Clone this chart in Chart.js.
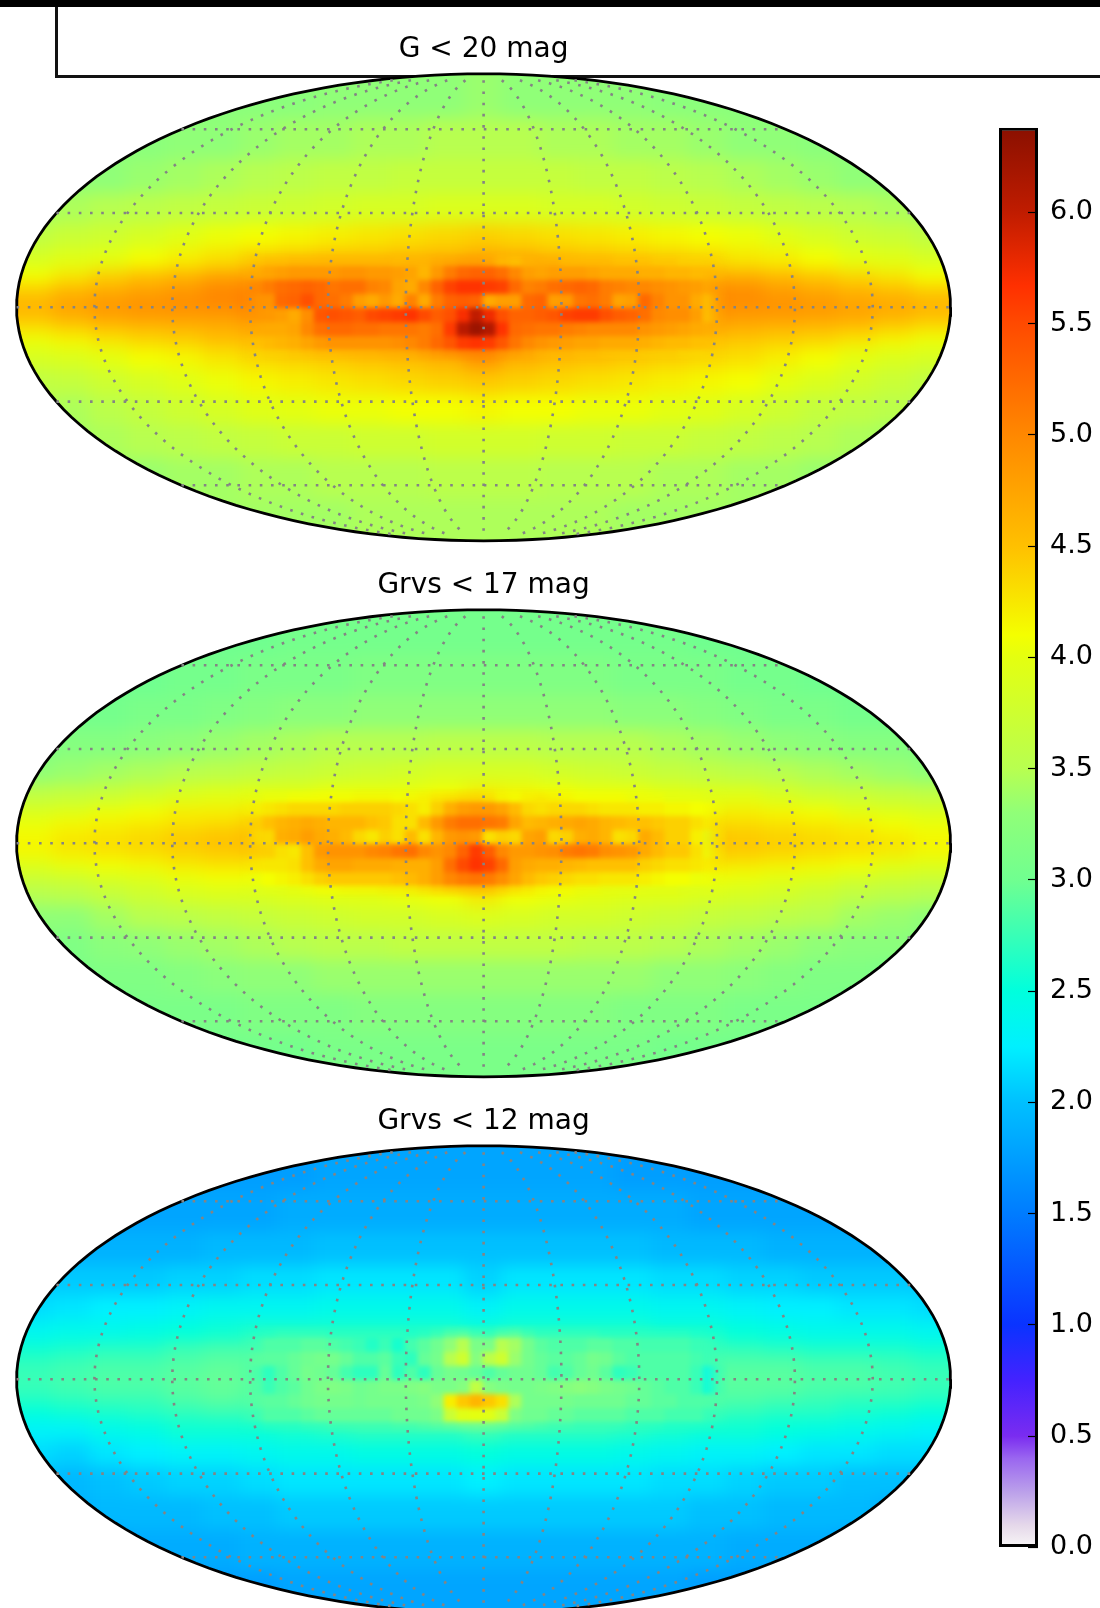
<!DOCTYPE html>
<html>
<head>
<meta charset="utf-8">
<title>Star density maps</title>
<script src="https://cdn.jsdelivr.net/npm/chart.js@4"></script>
<style>
    html, body { margin: 0; padding: 0; background: #fff; }
    body { position: relative; width: 1100px; height: 1608px; overflow: hidden; }
    .layer { position: absolute; left: 0; top: 0; width: 1100px; height: 1608px; }
    canvas { position: absolute; }
    .core {
        -webkit-mask-image: linear-gradient(to right, transparent, #000 30px, #000 calc(100% - 30px), transparent), linear-gradient(to bottom, transparent, #000 16px, #000 calc(100% - 16px), transparent);
        mask-image: linear-gradient(to right, transparent, #000 30px, #000 calc(100% - 30px), transparent), linear-gradient(to bottom, transparent, #000 16px, #000 calc(100% - 16px), transparent);
        -webkit-mask-composite: source-in;
        mask-composite: intersect;
    }
    #topBand { position: absolute; left: 0; top: 0; width: 1100px; height: 7px; background: #000; }
    #frame { position: absolute; left: 55px; top: 0; width: 1100px; height: 75px; border-left: 3px solid #111; border-bottom: 3px solid #111; }
</style>
</head>
<body>
<div id="frame"></div>
<div id="topBand"></div>

<script>
// --- Data (log10 star density on the colour bar scale) ---
const titles = ['G < 20 mag', 'Grvs < 17 mag', 'Grvs < 12 mag'];

// colour bar
const barTicks = [0, 0.5, 1, 1.5, 2, 2.5, 3, 3.5, 4, 4.5, 5, 5.5, 6];
const barMax = 6.38;
const stopValues = [0, 0.1, 0.25, 0.4, 0.5, 0.75, 1, 1.5, 2, 2.25, 2.5, 3, 3.3, 3.5, 4, 4.1, 4.5, 5, 5.5, 5.67, 6, 6.38];
const stopColors = ['#f8f6f6', '#e5d8ea', '#bba0ea', '#9a66f0', '#7a2cf0', '#4422ff', '#0a33ff', '#007cff', '#00c0ff', '#00f0ff', '#00ffdd', '#70ff90', '#90ff78', '#b8ff50', '#e4ff10', '#f4ff00', '#ffc000', '#ff8800', '#ff4a00', '#ff3000', '#c01c00', '#8a1000'];

// graticule, degrees
const gridLats = [-60, -30, 0, 30, 60];
const gridLons = [-150, -120, -90, -60, -30, 0, 30, 60, 90, 120, 150];

// whole sky grid: longitude of each column at the equator, latitude edges of each row
const skyLons = [172.8, 158.4, 144, 129.6, 115.2, 100.8, 86.4, 72, 57.6, 43.2, 28.8, 14.4, 0, -14.4, -28.8, -43.2, -57.6, -72, -86.4, -100.8, -115.2, -129.6, -144, -158.4, -172.8];
const skyLats = [90, 65, 49, 37, 27, 19, 12.5, 8, 4, 0, -4, -8, -12.5, -19, -27, -37, -49, -65, -90];

const skyG20 = [
    [3.2, 3.2, 3.2, 3.2, 3.2, 3.25, 3.25, 3.25, 3.3, 3.3, 3.3, 3.3, 3.35, 3.3, 3.3, 3.3, 3.3, 3.25, 3.25, 3.25, 3.2, 3.2, 3.2, 3.2, 3.2],
    [3.25, 3.25, 3.25, 3.25, 3.3, 3.3, 3.35, 3.4, 3.4, 3.45, 3.45, 3.5, 3.5, 3.5, 3.45, 3.45, 3.4, 3.4, 3.35, 3.3, 3.3, 3.25, 3.25, 3.25, 3.25],
    [3.3, 3.3, 3.3, 3.35, 3.4, 3.45, 3.5, 3.55, 3.6, 3.6, 3.65, 3.65, 3.65, 3.65, 3.65, 3.6, 3.6, 3.55, 3.5, 3.45, 3.4, 3.35, 3.3, 3.3, 3.3],
    [3.4, 3.45, 3.5, 3.55, 3.6, 3.65, 3.7, 3.75, 3.8, 3.85, 3.85, 3.9, 3.9, 3.9, 3.85, 3.85, 3.8, 3.75, 3.7, 3.65, 3.6, 3.55, 3.5, 3.45, 3.4],
    [3.6, 3.7, 3.75, 3.85, 3.95, 4.05, 4.1, 4.15, 4.2, 4.25, 4.3, 4.35, 4.4, 4.35, 4.3, 4.25, 4.2, 4.15, 4.1, 4.05, 3.95, 3.85, 3.75, 3.7, 3.6],
    [3.85, 3.95, 4.0, 4.1, 4.2, 4.3, 4.4, 4.45, 4.5, 4.5, 4.55, 4.6, 4.7, 4.65, 4.55, 4.5, 4.45, 4.4, 4.35, 4.25, 4.2, 4.1, 4.0, 3.95, 3.85],
    [4.1, 4.25, 4.4, 4.5, 4.6, 4.75, 4.8, 4.85, 4.85, 4.85, 4.85, 4.95, 5.1, 4.95, 4.85, 4.8, 4.75, 4.75, 4.7, 4.65, 4.55, 4.45, 4.35, 4.25, 4.1],
    [4.4, 4.55, 4.65, 4.75, 4.85, 5.0, 5.05, 5.1, 5.1, 5.05, 5.1, 5.25, 5.4, 5.25, 5.1, 5.1, 5.1, 5.05, 5.0, 4.95, 4.8, 4.7, 4.6, 4.5, 4.4],
    [4.6, 4.75, 4.85, 4.9, 4.95, 5.0, 5.1, 5.15, 5.2, 5.15, 5.15, 5.2, 5.3, 5.2, 5.15, 5.15, 5.15, 5.1, 5.0, 4.95, 4.9, 4.85, 4.75, 4.7, 4.6],
    [4.55, 4.7, 4.8, 4.85, 4.85, 4.85, 4.95, 5.2, 5.3, 5.4, 5.4, 5.4, 5.5, 5.4, 5.4, 5.4, 5.3, 5.15, 4.95, 4.85, 4.85, 4.8, 4.75, 4.65, 4.55],
    [4.3, 4.4, 4.5, 4.55, 4.6, 4.65, 4.75, 4.95, 5.1, 5.15, 5.15, 5.2, 5.5, 5.2, 5.15, 5.1, 5.0, 4.85, 4.75, 4.65, 4.6, 4.55, 4.5, 4.4, 4.3],
    [4.05, 4.15, 4.25, 4.35, 4.4, 4.5, 4.55, 4.65, 4.75, 4.85, 4.9, 5.0, 5.2, 5.0, 4.85, 4.8, 4.7, 4.6, 4.5, 4.45, 4.4, 4.35, 4.25, 4.15, 4.05],
    [3.85, 3.9, 4.0, 4.1, 4.15, 4.25, 4.35, 4.4, 4.45, 4.5, 4.55, 4.65, 4.9, 4.65, 4.55, 4.5, 4.45, 4.4, 4.35, 4.3, 4.2, 4.1, 4.0, 3.9, 3.85],
    [3.6, 3.65, 3.75, 3.85, 3.95, 4.05, 4.15, 4.2, 4.25, 4.3, 4.35, 4.4, 4.45, 4.4, 4.35, 4.3, 4.25, 4.2, 4.15, 4.1, 4.0, 3.9, 3.8, 3.7, 3.6],
    [3.5, 3.45, 3.55, 3.65, 3.75, 3.85, 3.95, 4.0, 4.05, 4.05, 4.1, 4.1, 4.15, 4.1, 4.1, 4.05, 4.05, 4.0, 3.95, 3.85, 3.75, 3.65, 3.6, 3.55, 3.5],
    [3.35, 3.4, 3.45, 3.5, 3.55, 3.6, 3.65, 3.7, 3.7, 3.75, 3.75, 3.8, 3.8, 3.8, 3.75, 3.75, 3.7, 3.7, 3.65, 3.6, 3.55, 3.5, 3.45, 3.4, 3.35],
    [3.3, 3.3, 3.35, 3.35, 3.4, 3.4, 3.45, 3.45, 3.5, 3.5, 3.5, 3.55, 3.55, 3.55, 3.5, 3.5, 3.5, 3.45, 3.45, 3.4, 3.4, 3.35, 3.35, 3.3, 3.3],
    [3.35, 3.35, 3.35, 3.35, 3.4, 3.4, 3.4, 3.4, 3.4, 3.45, 3.45, 3.45, 3.45, 3.45, 3.45, 3.45, 3.4, 3.4, 3.4, 3.4, 3.4, 3.35, 3.35, 3.35, 3.35]
];

const skyRvs17 = [
    [3.0, 3.0, 3.0, 3.0, 3.0, 3.0, 3.0, 3.05, 3.05, 3.05, 3.05, 3.05, 3.05, 3.05, 3.05, 3.05, 3.05, 3.05, 3.0, 3.0, 3.0, 3.0, 3.0, 3.0, 3.0],
    [3.0, 3.0, 3.0, 3.0, 3.05, 3.05, 3.1, 3.1, 3.1, 3.15, 3.15, 3.15, 3.15, 3.15, 3.15, 3.15, 3.1, 3.1, 3.1, 3.05, 3.05, 3.0, 3.0, 3.0, 3.0],
    [3.05, 3.05, 3.05, 3.1, 3.1, 3.15, 3.2, 3.25, 3.25, 3.3, 3.3, 3.3, 3.3, 3.3, 3.3, 3.3, 3.25, 3.25, 3.2, 3.15, 3.1, 3.1, 3.05, 3.05, 3.05],
    [3.15, 3.2, 3.2, 3.25, 3.3, 3.35, 3.4, 3.45, 3.5, 3.5, 3.5, 3.55, 3.55, 3.55, 3.5, 3.5, 3.5, 3.45, 3.4, 3.35, 3.3, 3.25, 3.2, 3.2, 3.15],
    [3.3, 3.35, 3.4, 3.45, 3.5, 3.55, 3.6, 3.65, 3.7, 3.75, 3.8, 3.85, 3.85, 3.85, 3.8, 3.75, 3.7, 3.65, 3.6, 3.55, 3.5, 3.45, 3.4, 3.35, 3.3],
    [3.6, 3.65, 3.7, 3.8, 3.9, 3.95, 4.0, 4.0, 4.05, 4.05, 4.05, 4.1, 4.2, 4.15, 4.1, 4.05, 4.05, 4.0, 3.95, 3.95, 3.85, 3.75, 3.7, 3.65, 3.6],
    [3.9, 3.95, 4.05, 4.1, 4.2, 4.2, 4.25, 4.25, 4.3, 4.35, 4.35, 4.45, 4.6, 4.45, 4.35, 4.3, 4.3, 4.25, 4.2, 4.2, 4.15, 4.1, 4.0, 3.95, 3.9],
    [4.05, 4.15, 4.2, 4.25, 4.3, 4.35, 4.45, 4.5, 4.5, 4.55, 4.6, 4.75, 4.9, 4.75, 4.6, 4.55, 4.5, 4.45, 4.4, 4.35, 4.3, 4.25, 4.2, 4.1, 4.05],
    [4.15, 4.25, 4.3, 4.35, 4.45, 4.5, 4.55, 4.6, 4.65, 4.7, 4.75, 4.85, 5.0, 4.85, 4.75, 4.7, 4.65, 4.55, 4.5, 4.45, 4.4, 4.35, 4.3, 4.25, 4.15],
    [4.15, 4.25, 4.3, 4.35, 4.4, 4.45, 4.5, 4.7, 4.8, 4.85, 4.9, 4.95, 5.1, 4.95, 4.9, 4.85, 4.8, 4.65, 4.5, 4.45, 4.4, 4.35, 4.3, 4.25, 4.15],
    [3.95, 4.05, 4.1, 4.15, 4.25, 4.3, 4.3, 4.4, 4.55, 4.6, 4.65, 4.75, 5.0, 4.75, 4.65, 4.6, 4.5, 4.4, 4.3, 4.25, 4.2, 4.15, 4.1, 4.0, 3.95],
    [3.75, 3.8, 3.9, 3.95, 4.05, 4.1, 4.1, 4.15, 4.25, 4.35, 4.4, 4.5, 4.75, 4.5, 4.4, 4.3, 4.2, 4.15, 4.1, 4.05, 4.0, 3.95, 3.85, 3.8, 3.75],
    [3.5, 3.55, 3.65, 3.75, 3.85, 3.9, 3.9, 3.95, 4.0, 4.0, 4.05, 4.1, 4.25, 4.1, 4.05, 4.0, 3.95, 3.95, 3.9, 3.85, 3.8, 3.7, 3.6, 3.55, 3.5],
    [3.3, 3.3, 3.4, 3.5, 3.55, 3.6, 3.65, 3.7, 3.75, 3.8, 3.8, 3.85, 3.9, 3.85, 3.8, 3.8, 3.75, 3.7, 3.65, 3.6, 3.55, 3.5, 3.4, 3.35, 3.3],
    [3.2, 3.15, 3.25, 3.3, 3.35, 3.4, 3.45, 3.5, 3.55, 3.55, 3.6, 3.6, 3.6, 3.6, 3.6, 3.55, 3.55, 3.5, 3.45, 3.4, 3.35, 3.3, 3.25, 3.25, 3.2],
    [3.1, 3.1, 3.15, 3.15, 3.2, 3.25, 3.3, 3.3, 3.35, 3.35, 3.35, 3.35, 3.35, 3.35, 3.35, 3.35, 3.35, 3.3, 3.3, 3.25, 3.2, 3.15, 3.15, 3.1, 3.1],
    [3.05, 3.05, 3.05, 3.1, 3.1, 3.1, 3.15, 3.15, 3.15, 3.2, 3.2, 3.2, 3.2, 3.2, 3.2, 3.2, 3.15, 3.15, 3.15, 3.1, 3.1, 3.1, 3.05, 3.05, 3.05],
    [3.05, 3.05, 3.05, 3.05, 3.05, 3.05, 3.05, 3.05, 3.1, 3.1, 3.1, 3.1, 3.1, 3.1, 3.1, 3.1, 3.1, 3.05, 3.05, 3.05, 3.05, 3.05, 3.05, 3.05, 3.05]
];

const skyRvs12 = [
    [1.75, 1.75, 1.75, 1.75, 1.75, 1.75, 1.75, 1.75, 1.8, 1.8, 1.8, 1.8, 1.8, 1.8, 1.8, 1.8, 1.75, 1.75, 1.75, 1.75, 1.75, 1.75, 1.75, 1.75, 1.75],
    [1.8, 1.8, 1.8, 1.8, 1.8, 1.8, 1.8, 1.85, 1.85, 1.85, 1.85, 1.85, 1.85, 1.85, 1.85, 1.85, 1.85, 1.85, 1.8, 1.8, 1.8, 1.8, 1.8, 1.8, 1.8],
    [1.9, 1.9, 1.9, 1.9, 1.9, 1.95, 1.95, 1.95, 2.0, 2.0, 2.0, 2.0, 2.0, 2.0, 2.0, 2.0, 2.0, 1.95, 1.95, 1.95, 1.9, 1.9, 1.9, 1.9, 1.9],
    [2.05, 2.05, 2.05, 2.05, 2.1, 2.1, 2.15, 2.15, 2.2, 2.2, 2.2, 2.2, 2.1, 2.2, 2.2, 2.2, 2.2, 2.15, 2.15, 2.1, 2.1, 2.05, 2.05, 2.05, 2.05],
    [2.15, 2.2, 2.25, 2.25, 2.3, 2.35, 2.35, 2.35, 2.4, 2.4, 2.4, 2.4, 2.3, 2.4, 2.4, 2.4, 2.4, 2.35, 2.35, 2.3, 2.25, 2.25, 2.2, 2.2, 2.15],
    [2.35, 2.4, 2.4, 2.45, 2.5, 2.55, 2.6, 2.6, 2.6, 2.6, 2.6, 2.6, 2.55, 2.6, 2.6, 2.6, 2.6, 2.55, 2.55, 2.5, 2.45, 2.4, 2.4, 2.4, 2.35],
    [2.55, 2.6, 2.65, 2.65, 2.75, 2.8, 2.8, 2.85, 2.85, 2.85, 2.85, 2.85, 2.95, 2.85, 2.85, 2.85, 2.85, 2.8, 2.75, 2.7, 2.65, 2.6, 2.6, 2.6, 2.55],
    [2.7, 2.75, 2.8, 2.8, 2.85, 2.9, 2.9, 2.9, 2.95, 3.0, 2.95, 2.9, 3.0, 2.9, 2.95, 3.0, 2.95, 2.9, 2.85, 2.85, 2.85, 2.8, 2.8, 2.75, 2.7],
    [2.75, 2.8, 2.85, 2.85, 2.9, 2.95, 2.9, 2.95, 3.0, 3.0, 2.95, 2.9, 2.95, 2.9, 2.95, 3.05, 3.0, 2.95, 2.9, 2.9, 2.9, 2.85, 2.85, 2.8, 2.75],
    [2.75, 2.8, 2.85, 2.85, 2.9, 2.95, 2.9, 2.95, 3.05, 3.05, 3.0, 3.0, 3.05, 3.0, 3.05, 3.05, 3.0, 2.95, 2.9, 2.9, 2.9, 2.85, 2.85, 2.8, 2.75],
    [2.65, 2.7, 2.75, 2.75, 2.85, 2.9, 2.85, 2.9, 2.95, 3.0, 3.0, 3.05, 3.2, 3.05, 3.0, 3.0, 2.95, 2.85, 2.85, 2.85, 2.8, 2.75, 2.7, 2.7, 2.65],
    [2.5, 2.55, 2.6, 2.65, 2.7, 2.75, 2.75, 2.8, 2.85, 2.9, 2.9, 3.0, 3.1, 3.0, 2.9, 2.9, 2.85, 2.75, 2.75, 2.7, 2.65, 2.65, 2.6, 2.55, 2.5],
    [2.3, 2.3, 2.4, 2.45, 2.55, 2.55, 2.55, 2.6, 2.65, 2.7, 2.7, 2.7, 2.8, 2.7, 2.7, 2.7, 2.65, 2.6, 2.55, 2.55, 2.5, 2.45, 2.4, 2.35, 2.3],
    [2.15, 2.1, 2.2, 2.25, 2.3, 2.3, 2.35, 2.4, 2.4, 2.45, 2.45, 2.45, 2.5, 2.45, 2.45, 2.45, 2.4, 2.35, 2.3, 2.3, 2.25, 2.2, 2.2, 2.15, 2.15],
    [2.0, 1.95, 2.0, 2.05, 2.1, 2.1, 2.15, 2.2, 2.2, 2.2, 2.2, 2.2, 2.25, 2.2, 2.2, 2.2, 2.2, 2.15, 2.15, 2.1, 2.05, 2.05, 2.0, 2.0, 2.0],
    [1.9, 1.9, 1.95, 1.95, 1.95, 2.0, 2.0, 2.05, 2.05, 2.05, 2.05, 2.05, 2.05, 2.05, 2.05, 2.05, 2.05, 2.05, 2.0, 2.0, 1.95, 1.95, 1.95, 1.9, 1.9],
    [1.8, 1.8, 1.8, 1.85, 1.85, 1.85, 1.9, 1.9, 1.9, 1.9, 1.9, 1.9, 1.9, 1.9, 1.9, 1.9, 1.9, 1.9, 1.9, 1.85, 1.85, 1.85, 1.8, 1.8, 1.8],
    [1.75, 1.75, 1.75, 1.75, 1.75, 1.75, 1.75, 1.8, 1.8, 1.8, 1.8, 1.8, 1.8, 1.8, 1.8, 1.8, 1.8, 1.8, 1.75, 1.75, 1.75, 1.75, 1.75, 1.75, 1.75]
];

// finer grid over the Galactic centre, 5 degree columns
const coreLons = [92.5, 87.5, 82.5, 77.5, 72.5, 67.5, 62.5, 57.5, 52.5, 47.5, 42.5, 37.5, 32.5, 27.5, 22.5, 17.5, 12.5, 7.5, 2.5, -2.5, -7.5, -12.5, -17.5, -22.5, -27.5, -32.5, -37.5, -42.5, -47.5, -52.5, -57.5, -62.5, -67.5, -72.5, -77.5, -82.5, -87.5, -92.5];
const coreLats = [17.6, 13.2, 8.8, 4.4, 0, -4.4, -8.8, -13.2, -17.6];

const coreG20 = [
    [4.45, 4.5, 4.55, 4.55, 4.6, 4.6, 4.6, 4.6, 4.6, 4.6, 4.6, 4.6, 4.55, 4.6, 4.6, 4.7, 4.75, 4.8, 4.8, 4.7, 4.5, 4.45, 4.6, 4.65, 4.65, 4.55, 4.55, 4.55, 4.55, 4.5, 4.5, 4.5, 4.45, 4.45, 4.4, 4.4, 4.4, 4.35],
    [4.65, 4.7, 4.75, 4.8, 4.85, 4.85, 4.85, 4.85, 4.9, 4.9, 4.85, 4.85, 4.8, 4.75, 4.6, 4.85, 5.1, 5.25, 5.3, 5.3, 5.2, 5.0, 4.8, 4.75, 4.8, 4.8, 4.8, 4.75, 4.7, 4.7, 4.7, 4.65, 4.65, 4.6, 4.6, 4.55, 4.55, 4.5],
    [4.9, 5.0, 5.1, 5.2, 5.25, 5.3, 5.25, 5.15, 5.2, 5.2, 5.05, 5.0, 4.75, 4.7, 5.0, 5.3, 5.55, 5.65, 5.65, 5.6, 5.55, 5.25, 5.05, 5.1, 5.2, 5.25, 5.3, 5.25, 5.1, 5.05, 5.0, 5.0, 4.95, 4.9, 4.85, 4.8, 4.7, 4.7],
    [4.9, 4.85, 4.9, 5.25, 5.3, 5.45, 5.25, 5.2, 5.1, 4.8, 4.7, 4.85, 4.7, 5.05, 4.7, 5.1, 5.3, 5.35, 5.3, 4.7, 4.8, 4.8, 5.25, 5.3, 4.8, 4.85, 5.15, 5.2, 5.1, 4.75, 4.8, 5.25, 5.05, 4.9, 4.9, 4.7, 4.45, 4.6],
    [4.85, 4.85, 4.85, 4.8, 4.7, 4.95, 5.4, 5.45, 5.4, 5.35, 5.5, 5.55, 5.6, 5.65, 5.5, 5.35, 5.45, 5.7, 6.0, 5.75, 5.45, 5.3, 5.3, 5.35, 5.4, 5.55, 5.6, 5.6, 5.45, 5.35, 5.3, 5.2, 5.0, 4.95, 4.95, 4.8, 4.45, 4.55],
    [4.7, 4.7, 4.7, 4.7, 4.75, 5.0, 5.2, 5.25, 5.25, 5.2, 5.2, 5.15, 5.15, 5.15, 5.1, 5.2, 5.6, 6.05, 6.25, 6.1, 5.65, 5.25, 5.2, 5.15, 5.15, 5.1, 5.05, 5.0, 5.0, 5.0, 5.0, 4.9, 4.85, 4.8, 4.75, 4.7, 4.65, 4.6],
    [4.5, 4.5, 4.55, 4.6, 4.65, 4.75, 4.85, 4.9, 4.9, 4.9, 4.9, 4.9, 4.95, 5.0, 5.1, 5.25, 5.4, 5.6, 5.65, 5.6, 5.4, 5.15, 5.0, 4.9, 4.85, 4.8, 4.75, 4.75, 4.7, 4.7, 4.7, 4.65, 4.6, 4.55, 4.55, 4.5, 4.5, 4.45],
    [4.35, 4.35, 4.4, 4.4, 4.45, 4.5, 4.55, 4.55, 4.6, 4.6, 4.6, 4.65, 4.65, 4.7, 4.8, 4.9, 5.0, 5.05, 5.05, 5.0, 4.9, 4.8, 4.7, 4.6, 4.55, 4.55, 4.5, 4.5, 4.45, 4.45, 4.45, 4.4, 4.4, 4.4, 4.35, 4.35, 4.35, 4.35]
];

const coreRvs17 = [
    [4.0, 4.0, 4.05, 4.05, 4.1, 4.1, 4.1, 4.1, 4.1, 4.15, 4.15, 4.15, 4.1, 4.15, 4.2, 4.3, 4.35, 4.4, 4.4, 4.3, 4.15, 4.1, 4.2, 4.25, 4.2, 4.15, 4.1, 4.1, 4.1, 4.1, 4.05, 4.05, 4.05, 4.0, 4.0, 4.0, 3.95, 3.95],
    [4.15, 4.2, 4.25, 4.3, 4.35, 4.35, 4.35, 4.35, 4.4, 4.4, 4.4, 4.4, 4.35, 4.3, 4.2, 4.4, 4.65, 4.8, 4.85, 4.85, 4.75, 4.55, 4.35, 4.3, 4.35, 4.35, 4.35, 4.3, 4.25, 4.25, 4.25, 4.2, 4.2, 4.15, 4.15, 4.1, 4.1, 4.05],
    [4.35, 4.4, 4.5, 4.6, 4.65, 4.7, 4.65, 4.6, 4.6, 4.6, 4.5, 4.45, 4.3, 4.3, 4.55, 4.85, 5.1, 5.2, 5.2, 5.15, 5.1, 4.75, 4.55, 4.6, 4.65, 4.7, 4.75, 4.7, 4.6, 4.55, 4.5, 4.5, 4.45, 4.4, 4.4, 4.3, 4.2, 4.2],
    [4.4, 4.3, 4.35, 4.65, 4.7, 4.8, 4.7, 4.65, 4.55, 4.35, 4.25, 4.4, 4.3, 4.55, 4.3, 4.6, 4.85, 4.9, 4.85, 4.3, 4.4, 4.35, 4.75, 4.8, 4.35, 4.4, 4.65, 4.7, 4.6, 4.3, 4.35, 4.7, 4.55, 4.4, 4.4, 4.2, 4.0, 4.1],
    [4.4, 4.4, 4.4, 4.3, 4.25, 4.5, 4.85, 4.9, 4.9, 4.9, 5.0, 5.05, 5.15, 5.2, 5.0, 4.9, 5.0, 5.3, 5.6, 5.35, 5.0, 4.85, 4.85, 4.9, 4.95, 5.1, 5.15, 5.1, 4.95, 4.9, 4.85, 4.7, 4.55, 4.45, 4.45, 4.3, 4.05, 4.1],
    [4.25, 4.25, 4.25, 4.25, 4.3, 4.5, 4.7, 4.75, 4.75, 4.7, 4.7, 4.7, 4.65, 4.65, 4.65, 4.8, 5.2, 5.5, 5.65, 5.55, 5.25, 4.8, 4.7, 4.65, 4.65, 4.6, 4.55, 4.5, 4.5, 4.5, 4.5, 4.4, 4.35, 4.3, 4.3, 4.25, 4.2, 4.2],
    [4.05, 4.05, 4.1, 4.15, 4.2, 4.3, 4.4, 4.45, 4.45, 4.45, 4.45, 4.45, 4.5, 4.55, 4.65, 4.8, 5.0, 5.1, 5.15, 5.1, 4.95, 4.75, 4.55, 4.45, 4.4, 4.35, 4.3, 4.3, 4.25, 4.25, 4.25, 4.2, 4.15, 4.1, 4.1, 4.05, 4.05, 4.0],
    [3.9, 3.9, 3.95, 3.95, 4.0, 4.05, 4.1, 4.1, 4.15, 4.15, 4.15, 4.2, 4.2, 4.25, 4.35, 4.45, 4.55, 4.6, 4.6, 4.55, 4.45, 4.35, 4.25, 4.15, 4.1, 4.1, 4.05, 4.05, 4.0, 4.0, 4.0, 3.95, 3.95, 3.95, 3.9, 3.9, 3.9, 3.9]
];

const coreRvs12 = [
    [2.7, 2.7, 2.7, 2.75, 2.75, 2.75, 2.75, 2.7, 2.7, 2.7, 2.7, 2.7, 2.7, 2.65, 2.7, 2.8, 2.95, 3.0, 2.85, 2.8, 2.95, 3.0, 2.85, 2.75, 2.75, 2.75, 2.75, 2.75, 2.7, 2.7, 2.7, 2.7, 2.7, 2.7, 2.7, 2.65, 2.65, 2.65],
    [2.8, 2.8, 2.85, 2.85, 2.85, 2.9, 2.9, 2.85, 2.8, 2.75, 2.65, 2.75, 2.6, 2.8, 2.9, 3.0, 3.3, 3.5, 3.1, 3.1, 3.5, 3.4, 3.05, 2.9, 2.85, 2.85, 2.85, 2.9, 2.9, 2.85, 2.85, 2.8, 2.8, 2.8, 2.8, 2.75, 2.75, 2.7],
    [2.85, 2.9, 2.9, 2.9, 2.95, 3.0, 3.05, 3.05, 2.95, 2.85, 2.85, 2.9, 2.75, 2.7, 2.95, 3.05, 3.5, 3.75, 3.2, 3.55, 3.75, 3.35, 3.05, 2.95, 2.9, 2.9, 2.95, 3.05, 3.0, 2.9, 2.85, 2.85, 2.85, 2.85, 2.85, 2.8, 2.75, 2.75],
    [2.85, 2.8, 2.7, 2.85, 2.95, 3.05, 3.0, 2.95, 2.8, 2.7, 2.7, 2.95, 2.7, 2.85, 2.7, 2.95, 3.05, 3.0, 2.95, 2.85, 2.95, 3.0, 3.0, 2.95, 2.8, 2.85, 2.95, 3.0, 2.9, 2.7, 2.75, 2.85, 2.85, 2.85, 2.85, 2.75, 2.4, 2.6],
    [2.9, 2.85, 2.75, 2.85, 2.9, 3.0, 3.1, 3.15, 3.1, 3.0, 3.05, 3.1, 3.1, 3.15, 3.2, 3.1, 3.1, 3.2, 3.6, 3.2, 3.1, 3.05, 3.05, 3.1, 3.15, 3.2, 3.25, 3.2, 3.1, 3.05, 3.0, 2.95, 2.9, 2.85, 2.85, 2.75, 2.45, 2.65],
    [2.9, 2.9, 2.9, 2.9, 2.95, 3.0, 3.05, 3.05, 3.05, 3.0, 3.05, 3.05, 3.05, 3.05, 3.1, 3.3, 4.2, 4.45, 4.6, 4.45, 4.3, 3.45, 3.05, 3.05, 3.05, 3.05, 3.0, 3.0, 3.0, 3.0, 2.95, 2.95, 2.9, 2.9, 2.85, 2.85, 2.85, 2.85],
    [2.8, 2.8, 2.85, 2.85, 2.85, 2.9, 2.95, 2.95, 2.95, 2.95, 2.95, 2.95, 3.0, 3.0, 3.0, 3.1, 3.7, 3.95, 4.0, 3.95, 3.7, 3.15, 3.0, 3.0, 2.95, 2.95, 2.9, 2.9, 2.9, 2.9, 2.85, 2.85, 2.85, 2.8, 2.8, 2.8, 2.75, 2.75],
    [2.65, 2.65, 2.7, 2.7, 2.7, 2.75, 2.75, 2.8, 2.8, 2.8, 2.8, 2.8, 2.85, 2.85, 2.9, 2.95, 3.05, 3.15, 3.15, 3.1, 3.05, 2.95, 2.9, 2.85, 2.8, 2.8, 2.75, 2.75, 2.75, 2.75, 2.7, 2.7, 2.7, 2.65, 2.65, 2.65, 2.65, 2.6]
];

const maps = [
    { title: titles[0], sky: skyG20, core: coreG20, equator: 307.3 },
    { title: titles[1], sky: skyRvs17, core: coreRvs17, equator: 843.3 },
    { title: titles[2], sky: skyRvs12, core: coreRvs12, equator: 1379.3 }
];

// --- Layout of the picture ---
const centerX = 483.6;
const halfW = 467;
const halfH = 233.5;
const SQRT2 = Math.SQRT2;

Chart.defaults.animation = false;
Chart.defaults.devicePixelRatio = 1;
Chart.defaults.font.family = '"DejaVu Sans", sans-serif';
Chart.defaults.color = '#000';
Chart.defaults.plugins.legend.display = false;
Chart.defaults.plugins.tooltip.enabled = false;

// --- Mollweide projection ---
function auxAngle(lat) {
    const phi = lat * Math.PI / 180;
    if (Math.abs(lat) >= 90) return phi;
    let t = phi;
    for (let i = 0; i < 30; i++) {
        t -= (2 * t + Math.sin(2 * t) - Math.PI * Math.sin(phi)) / (2 + 2 * Math.cos(2 * t));
    }
    return t;
}
const projY = lat => SQRT2 * Math.sin(auxAngle(lat));
const projX = (lon, lat) => 2 * SQRT2 / 180 * lon * Math.cos(auxAngle(lat));

// --- Colour scale ---
function hexToRgb(hex) {
    return [1, 3, 5].map(i => parseInt(hex.substr(i, 2), 16));
}
function valueColor(v) {
    let i = 0;
    while (i < stopValues.length - 2 && v > stopValues[i + 1]) i++;
    const f = Math.min(1, Math.max(0, (v - stopValues[i]) / (stopValues[i + 1] - stopValues[i])));
    const a = hexToRgb(stopColors[i]);
    const b = hexToRgb(stopColors[i + 1]);
    return 'rgb(' + a.map((c, k) => Math.round(c + (b[k] - c) * f)).join(',') + ')';
}

function addCanvas(parent, left, top, width, height, blur) {
    const canvas = document.createElement('canvas');
    canvas.width = width;
    canvas.height = height;
    canvas.style.left = left + 'px';
    canvas.style.top = top + 'px';
    if (blur) canvas.style.filter = 'blur(' + blur + 'px)';
    parent.appendChild(canvas);
    return canvas;
}

// One floating bar per grid cell, one dataset per latitude row
function drawCells(canvas, lons, lats, rows, yLimit) {
    const datasets = rows.map((row, r) => {
        const top = Math.abs(lats[r]) >= 90 ? yLimit : projY(lats[r]);
        const bottom = Math.abs(lats[r + 1]) >= 90 ? -yLimit : projY(lats[r + 1]);
        return {
            data: row.map(() => [bottom, top]),
            backgroundColor: row.map(valueColor),
            borderWidth: 0,
            inflateAmount: 1,
            grouped: false,
            barPercentage: 1,
            categoryPercentage: 1
        };
    });
    new Chart(canvas, {
        type: 'bar',
        data: { labels: lons, datasets: datasets },
        options: {
            responsive: false,
            layout: { padding: 0 },
            scales: {
                x: { display: false },
                y: { display: false, min: -yLimit, max: yLimit }
            }
        }
    });
}

// Graticule, outline and title on top of the cells
function drawOverlay(parent, map, mapTop) {
    const titleBox = 41;
    const pad = 10;
    const canvasTop = Math.floor(mapTop - titleBox);
    const padTop = mapTop - titleBox - canvasTop;
    const height = Math.ceil(padTop + titleBox + 2 * halfH + pad);
    const left = Math.floor(centerX - halfW - pad);
    const padLeft = centerX - halfW - left;
    const width = Math.ceil(padLeft + 2 * halfW + pad) + 2;
    const canvas = addCanvas(parent, left, canvasTop, width, height);

    const dotted = points => ({
        data: points, showLine: true, pointRadius: 0, clip: false,
        borderColor: '#848484', borderWidth: 2.6, borderDash: [2.6, 8.6], tension: 0
    });
    const latSteps = [];
    for (let a = 84; a >= -84; a -= 2) latSteps.push(a);
    const lonSteps = [-180, 180];

    const datasets = [];
    gridLats.forEach(lat => {
        datasets.push(dotted(lonSteps.map(lon => ({ x: projX(lon, lat), y: projY(lat) }))));
    });
    gridLons.forEach(lon => {
        datasets.push(dotted(latSteps.map(lat => ({ x: projX(lon, lat), y: projY(lat) }))));
    });

    // outline of the sky
    const rim = [];
    for (let a = 0; a <= 360; a += 2) {
        const t = a * Math.PI / 180;
        rim.push({ x: 2 * SQRT2 * Math.cos(t), y: SQRT2 * Math.sin(t) });
    }
    datasets.push({ data: rim, showLine: true, pointRadius: 0, clip: false, borderColor: '#000', borderWidth: 2.8 });

    new Chart(canvas, {
        type: 'scatter',
        data: { datasets: datasets },
        options: {
            responsive: false,
            layout: { padding: { left: padLeft, right: width - padLeft - 2 * halfW, top: padTop, bottom: height - padTop - titleBox - 2 * halfH } },
            plugins: {
                title: {
                    display: true,
                    text: map.title,
                    color: '#000',
                    font: { size: 28, weight: 'normal', lineHeight: 1.2 },
                    padding: { top: 0, bottom: 7.4 }
                }
            },
            scales: {
                x: { display: false, min: -2 * SQRT2, max: 2 * SQRT2 },
                y: { display: false, min: -SQRT2, max: SQRT2 }
            }
        }
    });
}

maps.forEach(map => {
    const mapTop = map.equator - halfH;

    const clipLayer = document.createElement('div');
    clipLayer.className = 'layer';
    clipLayer.style.clipPath = 'ellipse(' + halfW + 'px ' + halfH + 'px at ' + centerX + 'px ' + map.equator + 'px)';
    document.body.appendChild(clipLayer);

    // whole sky, with one repeated column each side so the blur has no soft rim
    const skyPad = 30;
    const skyRows = map.sky.map(row => [row[0], ...row, row[row.length - 1]]);
    const skyLabels = [0, ...skyLons, 1];
    const columnW = 2 * halfW / skyLons.length;
    const skyCanvas = addCanvas(clipLayer, Math.round(centerX - halfW - columnW), Math.round(mapTop - skyPad),
        Math.round(2 * halfW + 2 * columnW), Math.round(2 * halfH + 2 * skyPad), 8);
    drawCells(skyCanvas, skyLabels, skyLats, skyRows, SQRT2 * (halfH + skyPad) / halfH);

    // Galactic centre, less blur, edges faded into the sky grid
    const coreW = Math.round(coreLons.length * 5 * halfW / 180);
    const coreH = 112;
    const coreCanvas = addCanvas(clipLayer, Math.round(centerX - coreW / 2), Math.round(map.equator - coreH / 2), coreW, coreH, 2.5);
    coreCanvas.className = 'core';
    drawCells(coreCanvas, coreLons, coreLats, map.core, SQRT2 * (coreH / 2) / halfH);

    const overlay = document.createElement('div');
    overlay.className = 'layer';
    document.body.appendChild(overlay);
    drawOverlay(overlay, map, mapTop);
});

// --- Colour bar ---
const barCanvas = addCanvas(document.body, 990, 100, 110, 1480);
new Chart(barCanvas, {
    type: 'bar',
    data: {
        labels: ['density'],
        datasets: [{
            data: [[0, barMax]],
            backgroundColor: ctx => {
                const { chart } = ctx;
                if (!chart.chartArea) return '#000';
                const y = chart.scales.y;
                const g = chart.ctx.createLinearGradient(0, y.getPixelForValue(0), 0, y.getPixelForValue(barMax));
                stopValues.forEach((v, i) => g.addColorStop(v / barMax, stopColors[i]));
                return g;
            },
            borderColor: '#000',
            borderWidth: 3,
            borderSkipped: false,
            inflateAmount: 0,
            barPercentage: 1,
            categoryPercentage: 1
        }]
    },
    options: {
        responsive: false,
        layout: { padding: { left: 9, right: 0, top: 27.8, bottom: 32.6 } },
        scales: {
            x: { display: false },
            y: {
                position: 'right',
                min: 0,
                max: barMax,
                afterFit: scale => { scale.width = 62; scale.paddingTop = 0; scale.paddingBottom = 0; },
                afterBuildTicks: scale => { scale.ticks = barTicks.map(v => ({ value: v })); },
                border: { display: false },
                grid: { z: 1, drawOnChartArea: false, drawTicks: true, tickLength: -10, tickColor: '#000', tickWidth: 1.2 },
                ticks: {
                    padding: 22,
                    font: { size: 27 },
                    color: '#000',
                    callback: v => v.toFixed(1)
                }
            }
        }
    }
});
</script>
</body>
</html>
